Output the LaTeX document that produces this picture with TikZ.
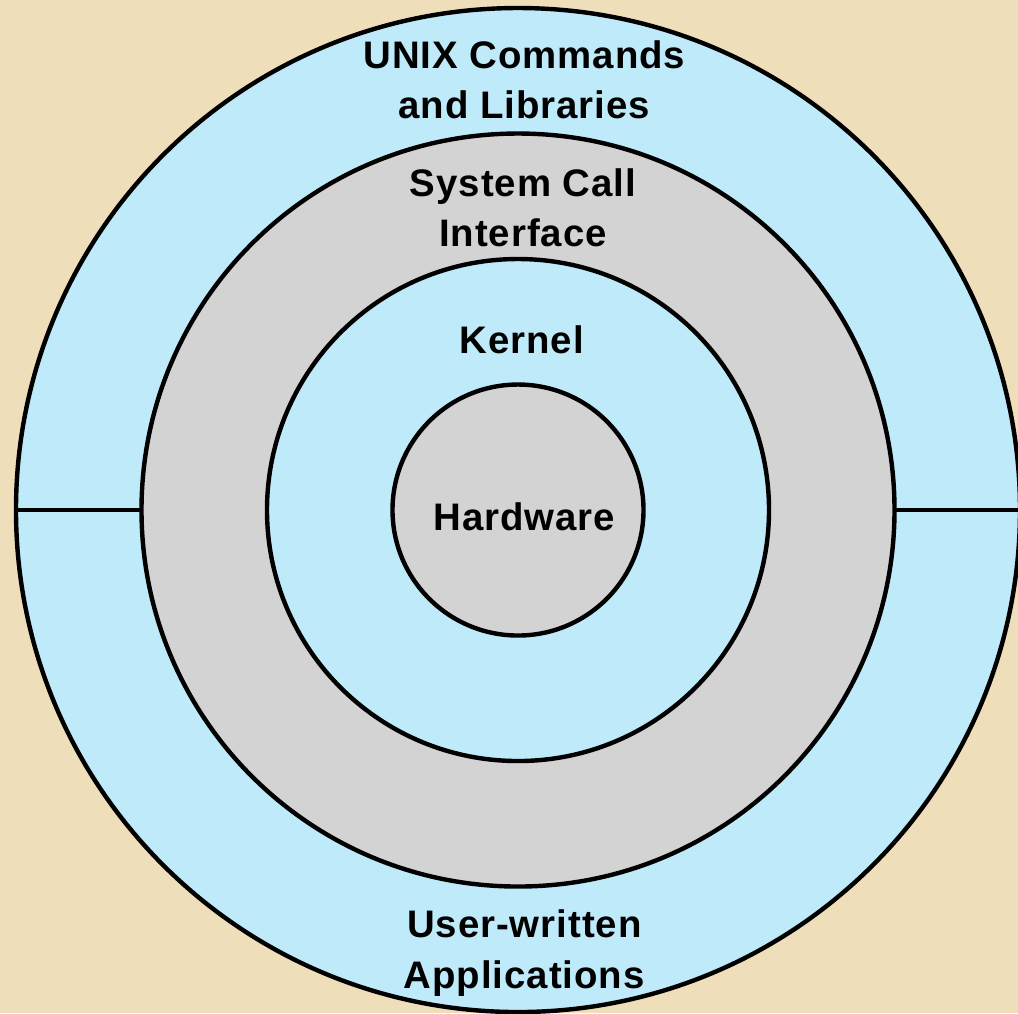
\documentclass[tikz,border=0pt]{standalone}
\usepackage{fontspec}
\newfontfamily\ringfont{Liberation Sans}[LetterSpace=2.5]
\definecolor{parchment}{RGB}{239,222,186}
\definecolor{ringblue}{RGB}{191,234,250}
\definecolor{ringgray}{RGB}{211,211,211}
\tikzset{
  ring/.style={circle, draw=black, line width=2pt, inner sep=0pt, outer sep=0pt},
  ringlabel/.style={font=\ringfont\bfseries\fontsize{17.4pt}{22.7pt}\selectfont, align=center}
}
\begin{document}
\begin{tikzpicture}[scale=2]
        \useasboundingbox (-4.1275,-4.008) rectangle (3.984,4.064);
        \clip (-4.1275,-4.008) rectangle (3.984,4.064);
        \fill[parchment] (-4.1275,-4.008) rectangle (3.984,4.064);

        \node[ring, fill=ringblue, minimum size=16cm] (apps) at (0,0) {};
        \node[ring, fill=ringgray, minimum size=12cm] (syscall) at (0,0) {};
        \node[ring, fill=ringblue, minimum size=8cm] (kernel) at (0,0) {};
        \node[ring, fill=ringgray, minimum size=4cm] (hw) at (0,0) {};
        \draw[line width=2pt] (apps.west) -- (syscall.west);
        \draw[line width=2pt] (syscall.east) -- (apps.east);

        \node[ringlabel] (unixlbl) at (0.05,3.43) {UNIX Commands\\and Libraries};
        \node[ringlabel] (calllbl) at (0.04,2.41) {System Call\\Interface};
        \node[ringlabel] (kernlbl) at (0.03,1.355) {Kernel};
        \node[ringlabel] (hwlbl) at (0.05,-0.05) {Hardware};
        \node[ringlabel] (applbl) at (0.05,-3.53) {User-written\\Applications};
    \end{tikzpicture}
\end{document}
